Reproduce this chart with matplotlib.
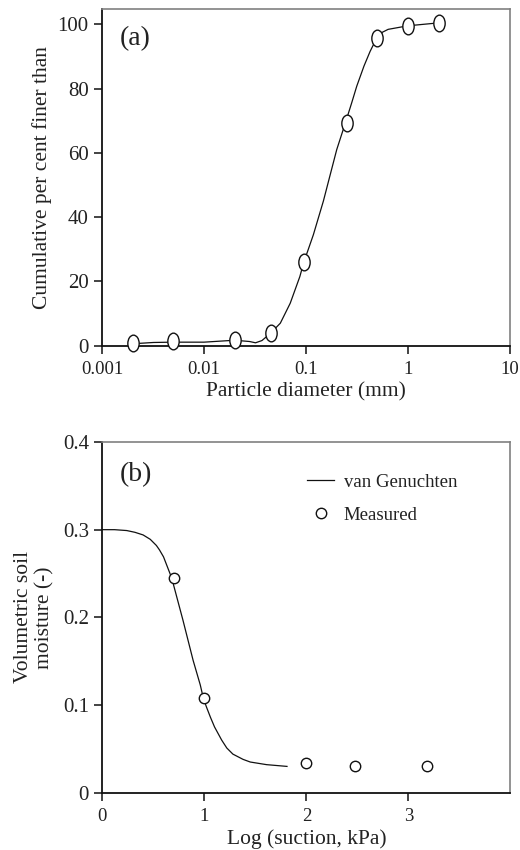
import matplotlib
matplotlib.use("Agg")
import matplotlib.pyplot as plt
from matplotlib.path import Path
from matplotlib.transforms import Affine2D

# (a) grain size distribution
d_measured = [0.002, 0.005, 0.02, 0.045, 0.095, 0.25, 0.5, 1.0, 2.0]
finer_measured = [0.9, 1.4, 1.9, 3.9, 25.9, 69.3, 95.7, 99.5, 100.4]

d_curve = [0.0020, 0.0032, 0.0049, 0.010, 0.020, 0.028, 0.032, 0.037, 0.045,
           0.056, 0.070, 0.087, 0.095, 0.118, 0.148, 0.172, 0.200, 0.243,
           0.280, 0.314, 0.370, 0.424, 0.493, 0.560, 0.638, 0.993, 1.97]
finer_curve = [0.6, 1.0, 1.1, 1.1, 1.7, 1.3, 0.9, 1.6, 3.9,
               7.0, 13.2, 21.5, 25.9, 34.5, 45.0, 53.0, 61.0, 69.3,
               75.5, 80.7, 87.0, 91.5, 95.7, 97.5, 98.4, 99.5, 100.4]

d_ticks = [0.001, 0.01, 0.1, 1, 10]
d_ticklabels = ["0.001", "0.01", "0.1", "1", "10"]

# (b) retention curve
log_suction_measured = [0.70, 1.0, 2.0, 2.48, 3.18]
theta_measured = [0.245, 0.108, 0.034, 0.030, 0.030]

log_suction_curve = [0, 0.12, 0.24, 0.32, 0.40, 0.47, 0.53, 0.56, 0.60, 0.68,
                     0.79, 0.89, 0.96, 0.99, 1.02, 1.06, 1.10, 1.17, 1.22,
                     1.28, 1.38, 1.45, 1.61, 1.81]
theta_curve = [0.300, 0.300, 0.299, 0.297, 0.294, 0.289, 0.282, 0.277, 0.269, 0.245,
               0.197, 0.151, 0.123, 0.108, 0.098, 0.086, 0.075, 0.060, 0.051,
               0.044, 0.038, 0.035, 0.032, 0.030]

plt.rcParams["font.family"] = ["Liberation Serif", "DejaVu Serif"]
txt = "#222222"

# tall ellipse marker used in (a)
ell = Path.unit_circle().transformed(Affine2D().scale(0.68, 1.0))

fig = plt.figure(figsize=(5.2, 8.5), dpi=100)
ax1 = fig.add_axes([0.196, 0.5933, 0.785, 0.396])
ax2 = fig.add_axes([0.1967, 0.0674, 0.785, 0.4126])


def style(ax):
    for s in ["left", "bottom"]:
        ax.spines[s].set_color("#111111")
        ax.spines[s].set_linewidth(1.3)
    for s in ["top", "right"]:
        ax.spines[s].set_color("#808080")
        ax.spines[s].set_linewidth(1.2)
    ax.tick_params(direction="out", length=6, width=1.1, colors="#111111",
                   labelcolor=txt, top=False, right=False)
    ax.tick_params(axis="x", pad=5, labelsize=13.5)
    ax.tick_params(axis="y", labelsize=15)
    ax.minorticks_off()


ax1.plot(d_curve, finer_curve, color="#111111", lw=0.9, zorder=2)
ax1.plot(d_measured, finer_measured, ls="none", marker=ell, ms=12,
         mfc="white", mec="#111111", mew=1.0, zorder=3, clip_on=False)
ax1.set_xscale("log")
ax1.set_xlim(0.001, 10)
ax1.set_ylim(0, 104.7)
ax1.set_xticks(d_ticks)
ax1.set_xticklabels(d_ticklabels)
ax1.set_yticks([0, 20, 40, 60, 80, 100])
style(ax1)
ax1.minorticks_off()
ax1.set_xlabel("Particle diameter (mm)", fontsize=15.5, color=txt, labelpad=3)
ax1.set_ylabel("Cumulative per cent finer than", fontsize=15.5, color=txt, labelpad=4)
ax1.text(0.044, 0.912, "(a)", transform=ax1.transAxes, fontsize=20,
         color=txt, va="center", ha="left")

ax2.plot(log_suction_curve, theta_curve, color="#111111", lw=0.9,
         label="van Genuchten", zorder=2)
ax2.plot(log_suction_measured, theta_measured, ls="none", marker="o", ms=7.5,
         mfc="white", mec="#111111", mew=1.0, label="Measured", zorder=3)
ax2.set_xlim(0, 4)
ax2.set_ylim(0, 0.4)
ax2.set_xticks([0, 1, 2, 3])
ax2.set_xticklabels(["0", "1", "2", "3"])
ax2.set_yticks([0, 0.1, 0.2, 0.3, 0.4])
ax2.set_yticklabels(["0", "0.1", "0.2", "0.3", "0.4"])
style(ax2)
ax2.set_xlabel("Log (suction, kPa)", fontsize=15.5, color=txt, labelpad=3)
ax2.set_ylabel("Volumetric soil\nmoisture (-)", fontsize=15.5, color=txt, labelpad=6)
ax2.text(0.044, 0.906, "(b)", transform=ax2.transAxes, fontsize=20,
         color=txt, va="center", ha="left")
leg = ax2.legend(loc="upper left", bbox_to_anchor=(0.502, 0.91), frameon=False,
                 fontsize=13.5, handlelength=1.45, handletextpad=0.5,
                 labelspacing=0.85, borderpad=0, borderaxespad=0, numpoints=1)
for t in leg.get_texts():
    t.set_color(txt)

fig.savefig("out.png", dpi=100)
